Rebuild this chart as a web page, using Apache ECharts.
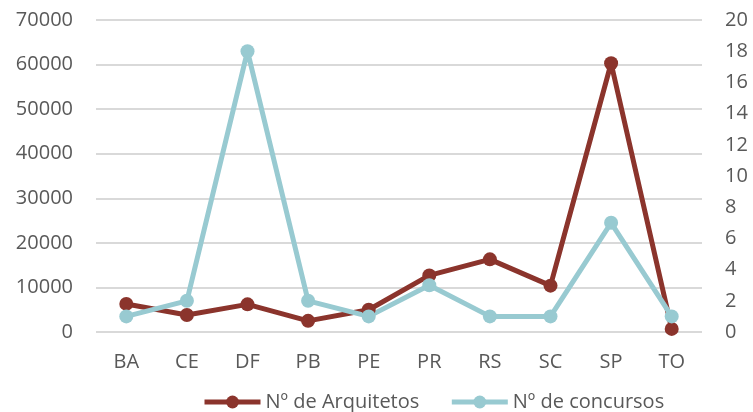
<!DOCTYPE html>
<html>
<head>
<meta charset="utf-8">
<script src="https://cdn.jsdelivr.net/npm/echarts@6/dist/echarts.min.js"></script>
<style>
  html, body { margin: 0; padding: 0; background: #fff; }
  #chart { width: 753px; height: 412px; }
</style>
</head>
<body>
<div id="chart"></div>
<script>
// estados
var categorias = ['BA', 'CE', 'DF', 'PB', 'PE', 'PR', 'RS', 'SC', 'SP', 'TO'];
// eixo esquerdo
var arquitetos = [6300, 3800, 6200, 2500, 5000, 12700, 16300, 10400, 60300, 700];
// eixo direito
var concursos = [1, 2, 18, 2, 1, 3, 1, 1, 7, 1];

var corArq = '#8B342C';
var corConc = '#98CAD1';
var fonte = 'Open Sans';

var myChart = echarts.init(document.getElementById('chart'));
var option = {
    animation: false,
    textStyle: { fontFamily: fonte },
    grid: { left: 96, right: 51, top: 20, bottom: 80 },
    legend: {
        left: 197,
        top: 387,
        itemWidth: 56,
        itemHeight: 16,
        itemGap: 30,
        lineStyle: { width: 5 },
        textStyle: { fontSize: 20, color: '#595959', fontFamily: fonte },
        data: ['Nº de Arquitetos', 'Nº de concursos']
    },
    xAxis: {
        type: 'category',
        data: categorias,
        axisLine: { show: false },
        axisTick: { show: false },
        axisLabel: { fontSize: 20, color: '#595959', margin: 20 }
    },
    yAxis: [
        {
            type: 'value',
            min: 0,
            max: 70000,
            interval: 10000,
            axisLabel: {
                fontSize: 20, color: '#595959', margin: 23,
                formatter: function (v) { return String(v); }
            },
            splitLine: { lineStyle: { color: '#d9d9d9', width: 2 } }
        },
        {
            type: 'value',
            min: 0,
            max: 20,
            interval: 2,
            axisLabel: { fontSize: 20, color: '#595959', margin: 23 },
            splitLine: { show: false }
        }
    ],
    series: [
        {
            name: 'Nº de Arquitetos',
            type: 'line',
            yAxisIndex: 0,
            data: arquitetos,
            symbol: 'circle',
            symbolSize: 14,
            itemStyle: { color: corArq },
            lineStyle: { color: corArq, width: 5 }
        },
        {
            name: 'Nº de concursos',
            type: 'line',
            yAxisIndex: 1,
            data: concursos,
            symbol: 'circle',
            symbolSize: 14,
            itemStyle: { color: corConc },
            lineStyle: { color: corConc, width: 5 }
        }
    ]
};
option && myChart.setOption(option);
</script>
</body>
</html>
